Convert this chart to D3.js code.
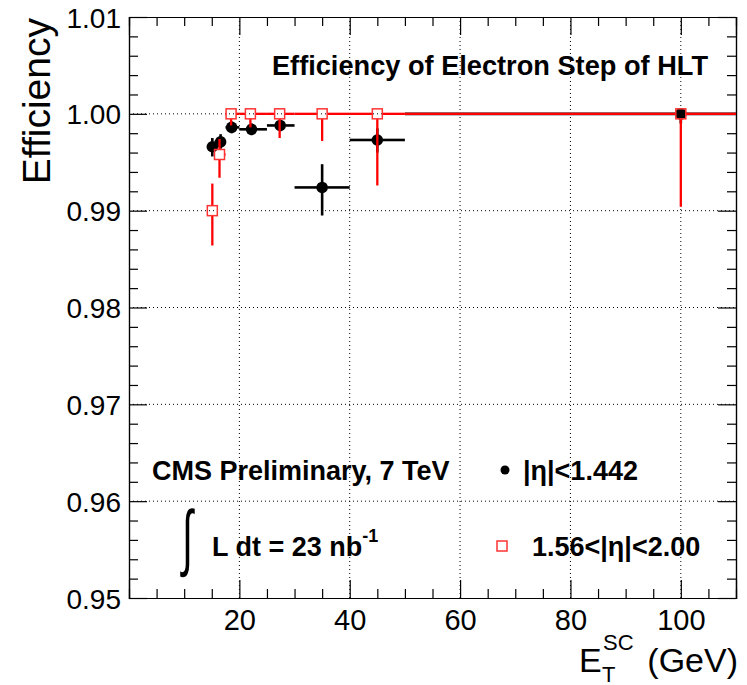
<!DOCTYPE html>
<html>
<head>
<meta charset="utf-8">
<script src="https://cdn.jsdelivr.net/npm/d3@7"></script>
<style>
  body { margin: 0; background: #fff; }
  svg text { font-family: "Liberation Sans", Arial, sans-serif; fill: #000; }
</style>
</head>
<body>
<div class="eff-chart"></div>
<script>
// bin edges shared by both eta regions (GeV)
const binLo = [14.5, 15.5, 17.5, 20, 25, 30, 40, 50];
const binHi = [15.5, 17.5, 20, 25, 30, 40, 50, 150];

// |eta| < 1.442
const barrelX = [15.1, 16.6, 18.6, 22.2, 27.4, 35, 45, 100];
const barrelEff = [0.9966, 0.9971, 0.9986, 0.9984, 0.9988, 0.9924, 0.9973, 1.0];
const barrelErrUp = [0.0009, 0.0008, 0.0006, 0.0006, 0.0006, 0.0024, 0.0012, 0];
const barrelErrDn = [0.0010, 0.0007, 0.0006, 0.0006, 0.0006, 0.0029, 0.0013, 0.0010];

// 1.56 < |eta| < 2.00
const endcapX = [15.1, 16.4, 18.5, 22.0, 27.3, 35, 45, 100];
const endcapEff = [0.990, 0.9958, 1, 1, 1, 1, 1, 1];
const endcapErrUp = [0.0028, 0.0016, 0, 0, 0, 0, 0, 0];
const endcapErrDn = [0.0036, 0.0024, 0.0012, 0.0014, 0.0025, 0.0028, 0.0074, 0.0096];

const xTicks = [20, 40, 60, 80, 100];
const yTicks = [0.95, 0.96, 0.97, 0.98, 0.99, 1.00, 1.01];

function drawEfficiencyChart() {
    var W = 747, H = 685;
    var margin = {top: 17, right: 11, bottom: 87, left: 129},
        width = W - margin.left - margin.right,
        height = H - margin.top - margin.bottom;

    var svg = d3.select(".eff-chart")
        .append("svg")
        .attr("width", W)
        .attr("height", H);

    var g = svg.append("g")
        .attr("transform", `translate(${margin.left},${margin.top})`);

    var x = d3.scaleLinear().domain([0, 110]).range([0, width]);
    var y = d3.scaleLinear().domain([0.95, 1.01]).range([height, 0]);

    g.append("clipPath").attr("id", "frame-clip")
        .append("rect").attr("width", width).attr("height", height);

    // dotted grid at the major ticks
    g.selectAll(".gx").data(xTicks).join("line")
        .attr("x1", d => x(d)).attr("x2", d => x(d))
        .attr("y1", 0).attr("y2", height)
        .attr("stroke", "#000").attr("stroke-width", 1)
        .attr("stroke-dasharray", "1,3");
    g.selectAll(".gy").data(yTicks.slice(1, -1)).join("line")
        .attr("x1", 0).attr("x2", width)
        .attr("y1", d => y(d)).attr("y2", d => y(d))
        .attr("stroke", "#000").attr("stroke-width", 1)
        .attr("stroke-dasharray", "1,3");

    // axes: major + minor ticks drawn inward on all four sides
    var xMinor = d3.range(5, 110, 5).filter(v => v % 20 !== 0);
    var yMinor = d3.range(0, 31).map(i => 0.95 + i * 0.002).filter((v, i) => i % 5 !== 0);

    var bottom = g.append("g").attr("transform", `translate(0,${height})`);
    bottom.call(d3.axisBottom(x).tickValues(xTicks).tickSize(-18).tickPadding(11).tickFormat(d3.format("d")));
    bottom.append("g").call(d3.axisBottom(x).tickValues(xMinor).tickSize(-9).tickFormat(""));
    var top = g.append("g");
    top.call(d3.axisTop(x).tickValues(xTicks).tickSize(-18).tickFormat(""));
    top.append("g").call(d3.axisTop(x).tickValues(xMinor).tickSize(-9).tickFormat(""));

    var left = g.append("g");
    left.call(d3.axisLeft(y).tickValues(yTicks).tickSize(-18).tickPadding(8).tickFormat(d3.format(".2f")));
    left.append("g").call(d3.axisLeft(y).tickValues(yMinor).tickSize(-9).tickFormat(""));
    var right = g.append("g").attr("transform", `translate(${width},0)`);
    right.call(d3.axisRight(y).tickValues(yTicks).tickSize(-18).tickFormat(""));
    right.append("g").call(d3.axisRight(y).tickValues(yMinor).tickSize(-9).tickFormat(""));

    svg.selectAll(".domain").attr("stroke", "#000").attr("stroke-width", 1.2);
    svg.selectAll(".tick line").attr("stroke", "#000").attr("stroke-width", 1.2);
    bottom.selectAll(".tick text").style("font-size", "29px")
        .attr("dy", "0.71em");
    left.selectAll(".tick text").style("font-size", "28px")
        .attr("dy", "0.36em");

    // error bars drawn outside the marker, ROOT style
    function drawGraph(xs, ys, up, dn, color, half, lw) {
        var eg = g.append("g").attr("clip-path", "url(#frame-clip)");
        xs.forEach((xv, i) => {
            var px = x(xv), py = y(ys[i]);
            var segs = [
                [x(binLo[i]), py, px - half, py],
                [px + half, py, x(binHi[i]), py],
                [px, y(ys[i] + up[i]), px, py - half],
                [px, py + half, px, y(ys[i] - dn[i])]
            ];
            segs.forEach(s => {
                var len = Math.abs(s[2] - s[0]) + Math.abs(s[3] - s[1]);
                if ((s[0] < s[2] || s[1] < s[3]) && len > 0.5) {
                    eg.append("line")
                        .attr("x1", s[0]).attr("y1", s[1])
                        .attr("x2", s[2]).attr("y2", s[3])
                        .attr("stroke", color).attr("stroke-width", lw);
                }
            });
        });
        return eg;
    }

    var bg = drawGraph(barrelX, barrelEff, barrelErrUp, barrelErrDn, "#000", 5, 2.6);
    bg.selectAll("circle").data(barrelX).join("circle")
        .attr("cx", d => x(d))
        .attr("cy", (d, i) => y(barrelEff[i]))
        .attr("r", 5.8)
        .attr("fill", "#000");

    var rg = drawGraph(endcapX, endcapEff, endcapErrUp, endcapErrDn, "#f00", 5, 2.3);
    rg.selectAll("rect").data(endcapX).join("rect")
        .attr("x", d => x(d) - 5)
        .attr("y", (d, i) => y(endcapEff[i]) - 5)
        .attr("width", 10).attr("height", 10)
        .attr("fill", "none")
        .attr("stroke", "#f33").attr("stroke-width", 1.5);

    // titles
    svg.append("text")
        .attr("x", 708).attr("y", 75)
        .attr("text-anchor", "end")
        .style("font-size", "27.2px").style("font-weight", "bold")
        .text("Efficiency of Electron Step of HLT");

    svg.append("text")
        .attr("transform", "rotate(-90)")
        .attr("x", -18).attr("y", 50)
        .attr("text-anchor", "end")
        .style("font-size", "39px")
        .text("Efficiency");

    svg.append("text")
        .attr("x", 738).attr("y", 672)
        .attr("text-anchor", "end")
        .style("font-size", "34px")
        .text("(GeV)");
    svg.append("text")
        .attr("x", 579).attr("y", 672)
        .style("font-size", "34px")
        .text("E");
    svg.append("text")
        .attr("x", 603).attr("y", 650)
        .style("font-size", "22px")
        .text("SC");
    svg.append("text")
        .attr("x", 602).attr("y", 682)
        .style("font-size", "22px")
        .text("T");

    // labels and legend
    svg.append("text")
        .attr("x", 152).attr("y", 480)
        .style("font-size", "27px").style("font-weight", "bold")
        .text("CMS Preliminary, 7 TeV");

    svg.append("text")
        .attr("transform", "translate(182,562) scale(0.7,1.3)")
        .style("font-size", "56px")
        .text("\u222B");
    var lum = svg.append("text")
        .attr("x", 212).attr("y", 556)
        .style("font-size", "27px").style("font-weight", "bold");
    lum.append("tspan").text("L dt = 23 nb");
    lum.append("tspan").attr("dy", -14).style("font-size", "18px").text("-1");

    svg.append("circle").attr("cx", 505).attr("cy", 470).attr("r", 4.5).attr("fill", "#000");
    svg.append("text")
        .attr("x", 523).attr("y", 480)
        .style("font-size", "27px").style("font-weight", "bold")
        .text("|\u03B7|<1.442");

    svg.append("rect").attr("x", 497).attr("y", 541).attr("width", 10).attr("height", 10)
        .attr("fill", "none").attr("stroke", "#f33").attr("stroke-width", 1.5);
    svg.append("text")
        .attr("x", 532).attr("y", 556)
        .style("font-size", "27px").style("font-weight", "bold")
        .text("1.56<|\u03B7|<2.00");
}

drawEfficiencyChart();
</script>
</body>
</html>
